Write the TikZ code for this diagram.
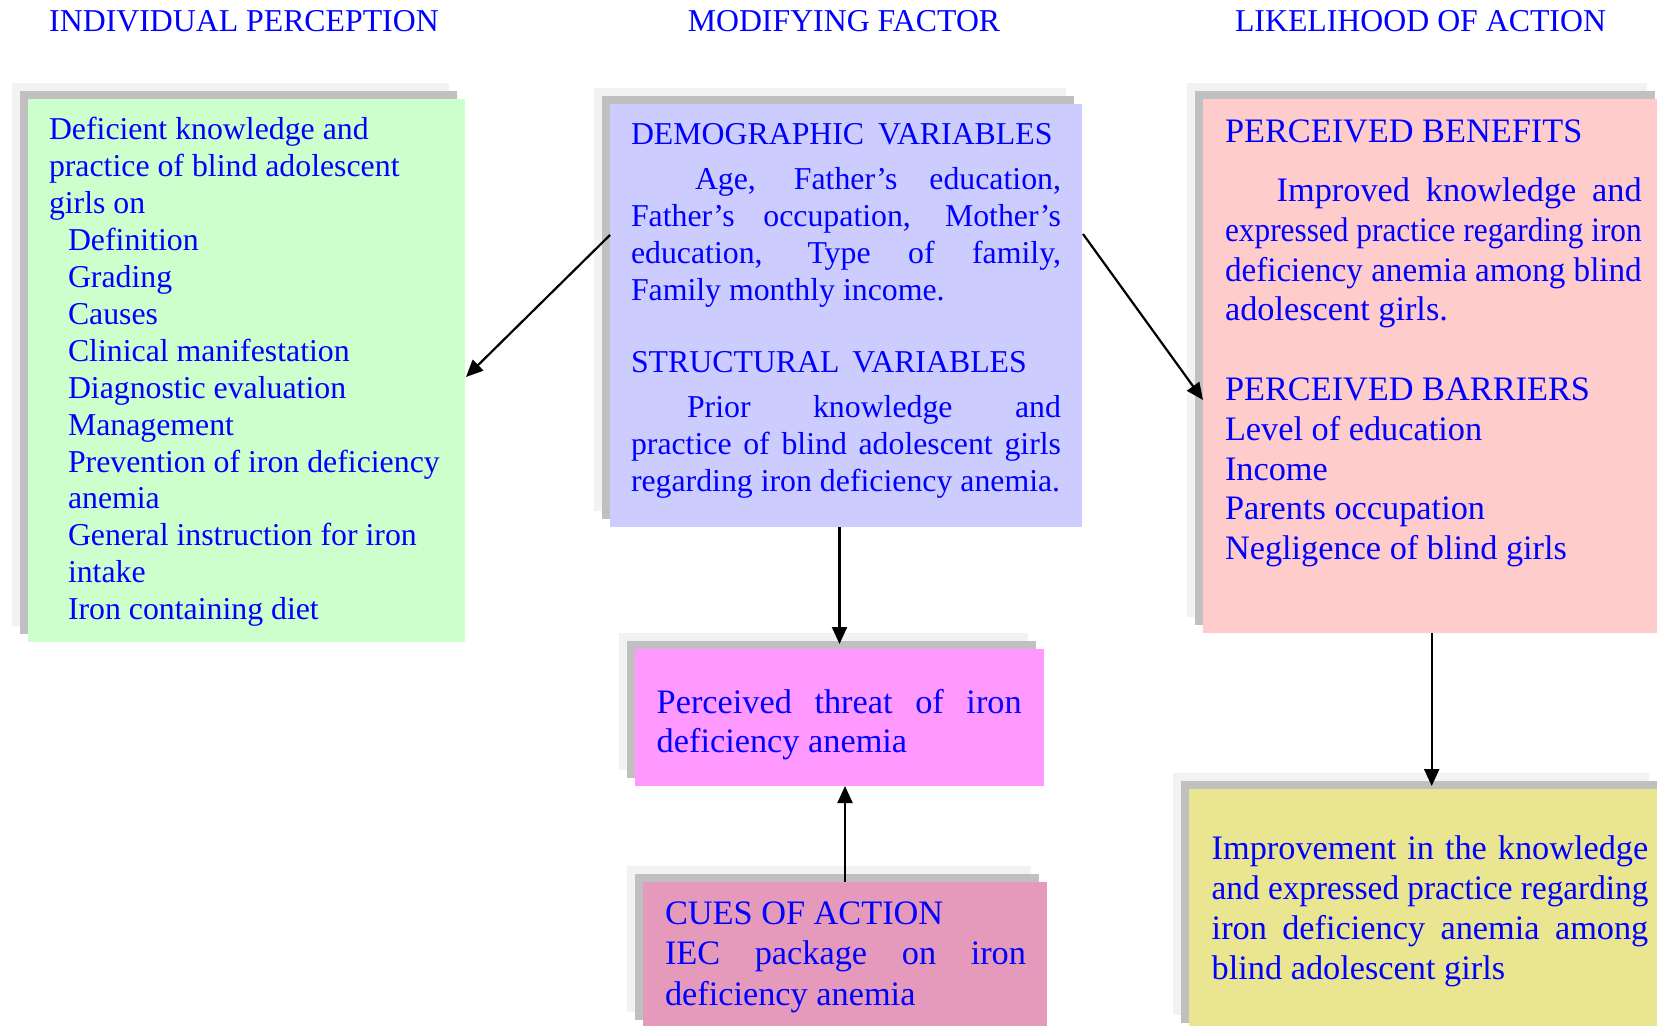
\documentclass[tikz,border=0pt]{standalone}
\usepackage{fontspec}
\setmainfont{Liberation Serif}
\usepackage{graphicx}
\usetikzlibrary{arrows.meta,calc,shadows}
\definecolor{gfill}{HTML}{CCFFCC}
\definecolor{bfill}{HTML}{CCCCFF}
\definecolor{pfill}{HTML}{FFCCCC}
\definecolor{mfill}{HTML}{FF99FF}
\definecolor{cfill}{HTML}{E599BB}
\definecolor{yfill}{HTML}{E9E591}
\definecolor{shlight}{HTML}{F2F2F2}
\definecolor{shmid}{HTML}{C0C0C0}
\definecolor{txtblue}{HTML}{0000FF}
\newsavebox\jlbox
\newcommand\jline[1]{\sbox\jlbox{#1}\ifdim\wd\jlbox>\linewidth\resizebox{\linewidth}{\height}{#1}\else\makebox[\linewidth][s]{#1}\fi}
\newcommand\rs{\spaceskip=0pt\xspaceskip=0pt\hyphenpenalty=10000\relax}
\begin{document}
\begin{tikzpicture}[x=0.5pt,y=-0.5pt,
  box/.style={inner sep=0pt, outer sep=0pt, anchor=north west, draw=none,
    general shadow={shadow xshift=-8pt, shadow yshift=8pt, fill=shlight},
    general shadow={shadow xshift=-4pt, shadow yshift=4pt, fill=shmid}},
  txt/.style={inner sep=0pt, outer sep=0pt, anchor=base west, align=left, text=txtblue,
    font=\fontsize{15.9}{18.45}\selectfont},
  txtb/.style={txt, font=\fontsize{17.15}{19.85}\selectfont},
  hdr/.style={inner sep=0pt, anchor=base, text=txtblue, font=\fontsize{15.9}{18.45}\selectfont},
  arr/.style={line width=1.1pt, -{Triangle[length=8.5pt,width=7.5pt]}}]
\useasboundingbox (0,0) rectangle (1657,1026);
\clip (0,0) rectangle (1657,1026);
\fill[white] (0,0) rectangle (1657,1026);

% headers
\node[hdr] (h1) at (244,32) {\rs INDIVIDUAL PERCEPTION};
\node[hdr] (h2) at (844,32) {\rs MODIFYING FACTOR};
\node[hdr] (h3) at (1420.5,32) {\rs LIKELIHOOD OF ACTION};

% boxes
\node[box, fill=gfill, minimum width=218.5pt, minimum height=271.5pt] (g) at (28,99) {};
\node[box, fill=bfill, minimum width=236pt, minimum height=211.5pt] (b) at (610,104) {};
\node[box, fill=pfill, minimum width=230pt, minimum height=267pt] (p) at (1203,99) {};
\node[box, fill=mfill, minimum width=204.5pt, minimum height=68.5pt] (t) at (635,649) {};
\node[box, fill=cfill, minimum width=202pt, minimum height=73pt] (c) at (643,882) {};
\node[box, fill=yfill, minimum width=238pt, minimum height=121pt] (y) at (1189,789) {};

% texts
\node[txt, text width=215pt] (gt) at (49,140) {\rs Deficient knowledge and\\
practice of blind adolescent\\
girls on\\
\hspace*{9.5pt}Definition\\
\hspace*{9.5pt}Grading\\
\hspace*{9.5pt}Causes\\
\hspace*{9.5pt}Clinical manifestation\\
\hspace*{9.5pt}Diagnostic evaluation\\
\hspace*{9.5pt}Management\\
\hspace*{9.5pt}Prevention of iron deficiency\\
\hspace*{9.5pt}anemia\\
\hspace*{9.5pt}General instruction for iron\\
\hspace*{9.5pt}intake\\
\hspace*{9.5pt}Iron containing diet};

\node[txt, text width=215pt] (bt) at (631,144.3) {\rs DEMOGRAPHIC\hspace{3pt} VARIABLES\\[4.4pt]
\jline{\hspace*{32pt}Age, Father’s education,}\\
\jline{Father’s occupation, Mother’s}\\
\jline{education, Type of family,}\\
Family monthly income.\\[17.4pt]
STRUCTURAL\hspace{2.5pt} VARIABLES\\[4.05pt]
\jline{\hspace*{28pt}Prior knowledge and}\\
\jline{practice of blind adolescent girls}\\
regarding iron deficiency anemia.};

\node[txtb, text width=208.35pt] (pt) at (1225,142.5) {\rs PERCEIVED BENEFITS\\[9.8pt]
\jline{\hspace*{25.85pt}Improved knowledge and}\\
\jline{expressed practice regarding iron}\\
\jline{deficiency anemia among blind}\\
adolescent girls.\\[20.15pt]
PERCEIVED BARRIERS\\
Level of education\\
Income\\
Parents occupation\\
Negligence of blind girls};

\node[txtb, text width=182.5pt, font=\fontsize{17.15}{19.4}\selectfont] (tt) at (656.7,713.5) {\rs\jline{Perceived threat of iron}\\
deficiency anemia};

\node[txtb, text width=180.5pt, font=\fontsize{17.15}{20.2}\selectfont] (ct) at (665,924.3) {\rs CUES OF ACTION\\
\jline{IEC package on iron}\\
deficiency anemia};

\node[txtb, text width=218.3pt, font=\fontsize{17.15}{19.95}\selectfont] (yt) at (1211.7,859.3) {\rs\jline{Improvement in the knowledge}\\
\jline{and expressed practice regarding}\\
\jline{iron deficiency anemia among}\\
blind adolescent girls};

% connectors
\draw[arr] ($(b.north west)+(0,131)$) -- ($(g.north east)+(1,278)$);
\draw[arr] ($(b.north east)+(1,130)$) -- ($(p.north west)+(0,301)$);
\draw[arr] (b.south -| t.north) -- ($(t.north)+(0,-5)$);
\draw[arr] (c.north) -- (c.north |- t.south);
\draw[arr] ($(p.south)+(-1.3,0)$) -- ($(p.south |- y.north)+(-1.3,-3)$);
\end{tikzpicture}
\end{document}
